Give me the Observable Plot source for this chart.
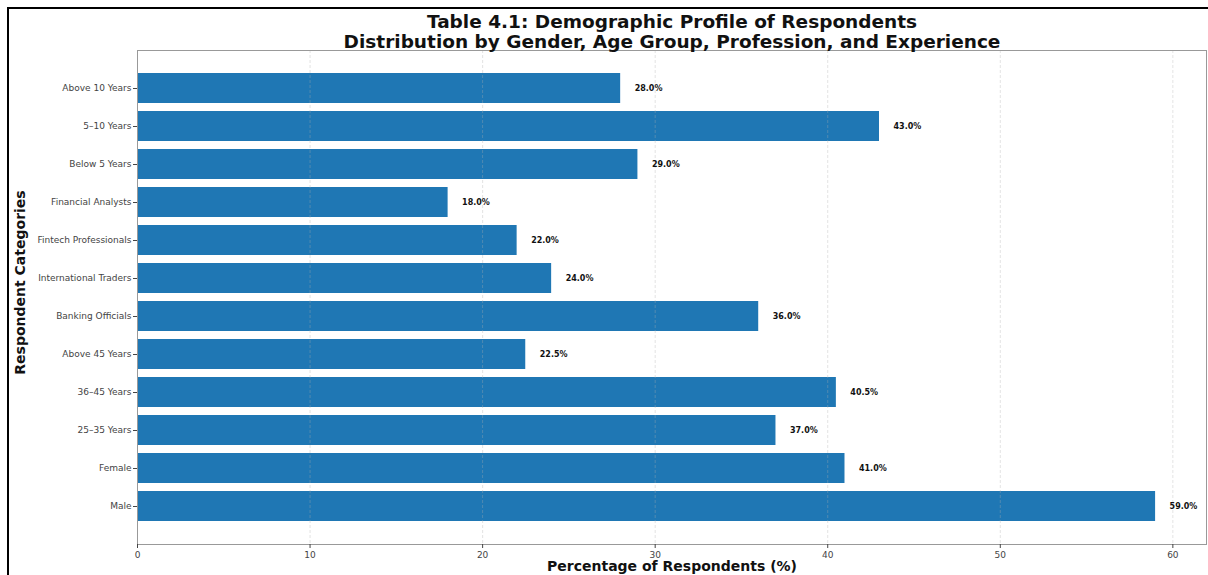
<!DOCTYPE html>
<html>
<head>
<meta charset="utf-8">
<script src="https://cdn.jsdelivr.net/npm/d3@7"></script>
<script src="https://cdn.jsdelivr.net/npm/@observablehq/plot@0.6"></script>
<style>
  html, body { margin: 0; padding: 0; background: white; }
  #wrap { position: relative; width: 1208px; height: 575px; overflow: hidden; }
  .bt { position: absolute; left: 7px; top: 7px; width: 1201px; height: 2px; background: #000; }
  .bl { position: absolute; left: 7px; top: 7px; width: 2px; height: 568px; background: #000; }
</style>
</head>
<body>
<div id="wrap"><div class="bt"></div><div class="bl"></div></div>
<script>
const categories = [
  "Male", "Female", "25–35 Years", "36–45 Years", "Above 45 Years",
  "Banking Officials", "International Traders", "Fintech Professionals",
  "Financial Analysts", "Below 5 Years", "5–10 Years", "Above 10 Years"
];
const values = [59.0, 41.0, 37.0, 40.5, 22.5, 36.0, 24.0, 22.0, 18.0, 29.0, 43.0, 28.0];
const xTicks = [0, 10, 20, 30, 40, 50, 60];
const titleText = "Table 4.1: Demographic Profile of Respondents\nDistribution by Gender, Age Group, Profession, and Experience";
const xLabel = "Percentage of Respondents (%)";
const yLabel = "Respondent Categories";

const data = categories.map((c, i) => ({category: c, value: values[i]}));
const yDomain = categories.slice().reverse();

const chart = Plot.plot({
  width: 1208,
  height: 575,
  marginLeft: 137,
  marginRight: 2,
  marginTop: 50,
  marginBottom: 31,
  style: {fontFamily: "DejaVu Sans", fontSize: "9px", color: "#444", background: "transparent"},
  x: {domain: [0, 61.95], label: null},
  y: {domain: yDomain, paddingInner: 0.2, paddingOuter: 0.59, label: null},
  marks: [
    Plot.barX(data, {x: "value", y: "category", fill: "#1f77b4"}),
    Plot.gridX(xTicks, {stroke: "#b0b0b0", strokeOpacity: 0.35, strokeDasharray: "3,2"}),
    Plot.frame({stroke: "#999"}),
    Plot.axisX({ticks: xTicks, tickSize: 4, tickPadding: 3, label: null}),
    Plot.axisY({tickSize: 4, tickPadding: 2, label: null}),
    Plot.text(data, {x: "value", y: "category", text: d => d.value.toFixed(1) + "%", dx: 14, textAnchor: "start", fontWeight: "bold", fontSize: 8, fill: "#111"}),
    Plot.text([titleText], {text: d => d, frameAnchor: "top", lineAnchor: "bottom", dy: -3, fontSize: 18.5, fontWeight: "bold", lineHeight: 1.08, fill: "#111"}),
    Plot.text([xLabel], {text: d => d, frameAnchor: "bottom", lineAnchor: "middle", dy: 22, fontSize: 14, fontWeight: "bold", fill: "#111"}),
    Plot.text([yLabel], {text: d => d, frameAnchor: "left", textAnchor: "middle", lineAnchor: "middle", rotate: -90, dx: -117, dy: -15, fontSize: 14, fontWeight: "bold", fill: "#111"})
  ]
});
chart.style.position = "absolute";
chart.style.left = "0px";
chart.style.top = "0px";
document.getElementById("wrap").appendChild(chart);
</script>
</body>
</html>
